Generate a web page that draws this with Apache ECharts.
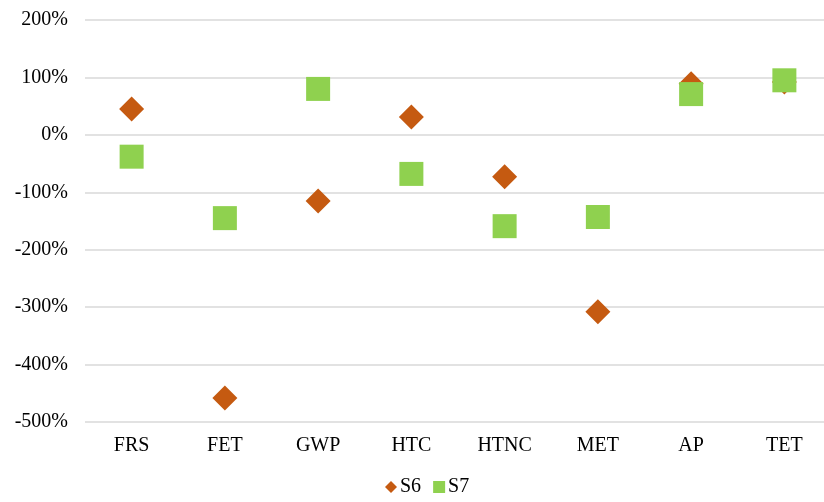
<!DOCTYPE html>
<html><head><meta charset="utf-8">
<script src="https://cdn.jsdelivr.net/npm/echarts@6/dist/echarts.min.js"></script>
<style>html,body{margin:0;padding:0;background:#fff;overflow:hidden}#c{width:831px;height:502px}</style>
</head><body><div id="c"></div>
<script>
var categories = ['FRS','FET','GWP','HTC','HTNC','MET','AP','TET'];
var s6 = [45, -458, -115, 31, -73, -308, 89, 92];
var s7 = [-38, -145, 80, -68, -159, -143, 71, 95];

var chart = echarts.init(document.getElementById('c'));
var font = '"Liberation Serif", "Times New Roman", serif';
chart.setOption({
  animation: false,
  grid: {left: 85, top: 20, right: 0, height: 402, containLabel: false},
  xAxis: {
    type: 'category', data: categories,
    axisLine: {show: false}, axisTick: {show: false},
    axisLabel: {color: '#000', fontFamily: font, fontSize: 20, margin: 14},
    splitLine: {show: false}
  },
  yAxis: {
    type: 'value', min: -500, max: 200, interval: 100,
    axisLine: {show: false}, axisTick: {show: false},
    axisLabel: {color: '#000', fontFamily: font, fontSize: 20, margin: 17, formatter: '{value}%'},
    splitLine: {lineStyle: {color: '#d9d9d9', width: 1.5}}
  },
  legend: {
    bottom: 0, left: 380, itemGap: 12, itemWidth: 12, itemHeight: 12,
    textStyle: {fontFamily: font, fontSize: 20, color: '#000', padding: [0,0,0,-2]},
    data: [{name: 'S6', icon: 'diamond'}, {name: 'S7', icon: 'rect'}]
  },
  series: [
    {name: 'S6', type: 'scatter', symbol: 'diamond', symbolSize: 25, data: s6, itemStyle: {color: '#C55A11', opacity: 1}},
    {name: 'S7', type: 'scatter', symbol: 'rect', symbolSize: 24, data: s7, itemStyle: {color: '#8FD14F', opacity: 1}}
  ]
});
</script></body></html>
